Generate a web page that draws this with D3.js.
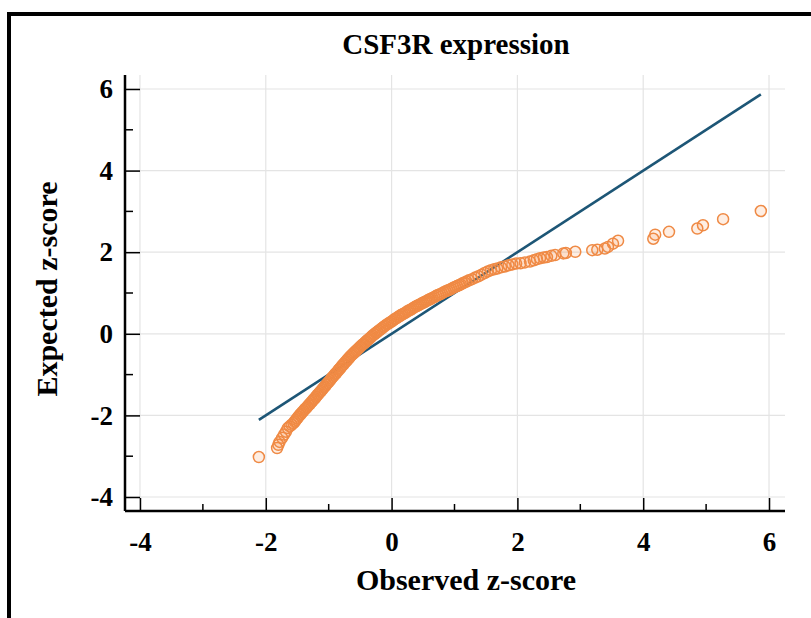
<!DOCTYPE html>
<html>
<head>
<meta charset="utf-8">
<script src="https://cdn.jsdelivr.net/npm/d3@7"></script>
<style>
	html, body { margin: 0; padding: 0; background: #fff; }
	svg { display: block; }
	text { font-family: "Liberation Serif", "Times New Roman", serif; font-weight: bold; fill: #000; }
</style>
</head>
<body>
<svg id="chart" width="811" height="618"></svg>
<script>
var title = 'CSF3R expression',
	xLabel = 'Observed z-score',
	yLabel = 'Expected z-score';

var majorTicks = [-4, -2, 0, 2, 4, 6],
	minorTicks = [-3, -1, 1, 3, 5];

// reference line y = x, from smallest to largest observed value
var refLine = [-2.11, 5.87];

// points, in rank order
var observed = [
	-2.11, -1.82, -1.80, -1.78, -1.74, -1.71, -1.68, -1.65, -1.62, -1.59,
	-1.56, -1.54, -1.52, -1.50, -1.48, -1.46, -1.44, -1.42, -1.40, -1.38, -1.36,
	-1.34, -1.32, -1.30, -1.28, -1.26, -1.24, -1.22, -1.20, -1.18, -1.16, -1.14,
	-1.12, -1.10, -1.08, -1.06, -1.04, -1.02, -1.00, -0.98, -0.96, -0.94,
	-0.92, -0.90, -0.88, -0.86, -0.84, -0.82, -0.80, -0.78, -0.76, -0.74, -0.72,
	-0.70, -0.68, -0.66, -0.64, -0.62, -0.60, -0.58, -0.56, -0.54, -0.52, -0.50,
	-0.48, -0.46, -0.44, -0.42, -0.40, -0.38, -0.36, -0.34, -0.32, -0.30,
	-0.275, -0.25, -0.225, -0.20, -0.175, -0.15, -0.125, -0.10,
	-0.075, -0.05, -0.025, 0.00, 0.025, 0.05, 0.075, 0.10, 0.125,
	0.15, 0.175, 0.20, 0.225, 0.25, 0.275, 0.30, 0.325, 0.35, 0.375, 0.40,
	0.425, 0.45, 0.475, 0.50, 0.525, 0.55, 0.575, 0.60, 0.625, 0.65,
	0.68, 0.71, 0.74, 0.77, 0.80, 0.83, 0.86, 0.89, 0.92,
	0.95, 0.98, 1.01, 1.04, 1.07, 1.10, 1.13, 1.16, 1.19,
	1.23, 1.28, 1.33, 1.38, 1.43, 1.48, 1.53, 1.58, 1.63, 1.68, 1.74, 1.80,
	1.86, 1.92, 1.98, 2.05, 2.12, 2.20, 2.26, 2.31, 2.36, 2.42, 2.47, 2.54,
	2.60, 2.73, 2.77, 2.92, 3.19, 3.27, 3.39, 3.44, 3.52, 3.60,
	4.16, 4.19, 4.41, 4.86, 4.95, 5.27, 5.87
];

var expected = [
	-3.02, -2.80, -2.72, -2.65, -2.55, -2.47, -2.40, -2.31, -2.27, -2.23,
	-2.19, -2.15, -2.11, -2.07, -2.03, -1.99, -1.96, -1.92, -1.89, -1.85, -1.82,
	-1.79, -1.75, -1.72, -1.68, -1.65, -1.61, -1.58, -1.54, -1.50, -1.47, -1.43,
	-1.40, -1.36, -1.32, -1.29, -1.25, -1.21, -1.18, -1.14, -1.10, -1.06,
	-1.03, -0.99, -0.96, -0.92, -0.88, -0.85, -0.81, -0.77, -0.74, -0.70, -0.67,
	-0.63, -0.60, -0.56, -0.53, -0.50, -0.47, -0.44, -0.41, -0.38, -0.35, -0.32,
	-0.29, -0.26, -0.24, -0.21, -0.18, -0.15, -0.13, -0.10, -0.07, -0.04,
	-0.01, 0.02, 0.05, 0.08, 0.11, 0.14, 0.17, 0.20,
	0.23, 0.25, 0.28, 0.30, 0.33, 0.36, 0.38, 0.41, 0.43,
	0.46, 0.48, 0.50, 0.52, 0.55, 0.57, 0.59, 0.61, 0.64, 0.66, 0.68,
	0.70, 0.72, 0.74, 0.76, 0.78, 0.80, 0.82, 0.84, 0.86, 0.88,
	0.90, 0.93, 0.95, 0.97, 0.99, 1.02, 1.04, 1.06, 1.08,
	1.10, 1.13, 1.15, 1.17, 1.19, 1.21, 1.24, 1.26, 1.28,
	1.31, 1.34, 1.38, 1.41, 1.45, 1.49, 1.53, 1.56, 1.58, 1.60, 1.63, 1.65,
	1.68, 1.70, 1.72, 1.73, 1.75, 1.77, 1.80, 1.83, 1.85, 1.87, 1.88, 1.91,
	1.93, 1.97, 1.98, 2.01, 2.05, 2.06, 2.09, 2.13, 2.21, 2.28,
	2.33, 2.43, 2.50, 2.58, 2.66, 2.81, 3.01
];

var svg = d3.select('#chart');

var plot = { left: 125, right: 785, top: 75, bottom: 511 };

var x = d3.scaleLinear()
	.domain([-4.238, 6.254])
	.range([plot.left, plot.right]);

var y = d3.scaleLinear()
	.domain([-4.343, 6.343])
	.range([plot.bottom, plot.top]);

var points = observed.map(function(o, i){ return { x: o, y: expected[i] }; });

// outer frame, runs off the right and bottom edges
svg.append('rect')
	.attr('x', 9)
	.attr('y', 14)
	.attr('width', 840)
	.attr('height', 640)
	.attr('fill', '#fff')
	.attr('stroke', '#000')
	.attr('stroke-width', 4);

// grid
var grid = svg.append('g').attr('class', 'grid');

grid.selectAll('line.gx')
	.data(majorTicks)
	.enter()
	.append('line')
	.attr('class', 'gx')
	.attr('x1', function(d){ return x(d); })
	.attr('x2', function(d){ return x(d); })
	.attr('y1', plot.top)
	.attr('y2', plot.bottom)
	.attr('stroke', '#e4e4e4')
	.attr('stroke-width', 1.2);

grid.selectAll('line.gy')
	.data(majorTicks)
	.enter()
	.append('line')
	.attr('class', 'gy')
	.attr('x1', plot.left)
	.attr('x2', plot.right)
	.attr('y1', function(d){ return y(d); })
	.attr('y2', function(d){ return y(d); })
	.attr('stroke', '#e4e4e4')
	.attr('stroke-width', 1.2);

// axes, ticks point inward
function plain(d){ return String(d); }

var xAxis = svg.append('g')
	.attr('transform', 'translate(0,' + plot.bottom + ')')
	.call(d3.axisBottom(x)
		.tickValues(majorTicks)
		.tickFormat(plain)
		.tickSizeInner(-13)
		.tickSizeOuter(0)
		.tickPadding(21));

var yAxis = svg.append('g')
	.attr('transform', 'translate(' + plot.left + ',0)')
	.call(d3.axisLeft(y)
		.tickValues(majorTicks)
		.tickFormat(plain)
		.tickSizeInner(-15)
		.tickSizeOuter(0)
		.tickPadding(12));

xAxis.selectAll('.tick line').attr('stroke-width', 1.5);
yAxis.selectAll('.tick line').attr('stroke-width', 1.5);

[xAxis, yAxis].forEach(function(ax){
	ax.select('.domain').attr('stroke-width', 2.5);
	ax.selectAll('.tick text')
		.attr('font-family', '"Liberation Serif", "Times New Roman", serif')
		.attr('font-weight', 'bold')
		.attr('font-size', 27)
		.attr('fill', '#000');
});

// extend the axis lines to the plot corners
xAxis.select('.domain').attr('d', 'M' + plot.left + ',0H' + plot.right);
yAxis.select('.domain').attr('d', 'M0,' + plot.top + 'V' + plot.bottom);

svg.selectAll('line.mx')
	.data(minorTicks)
	.enter()
	.append('line')
	.attr('class', 'mx')
	.attr('x1', function(d){ return x(d); })
	.attr('x2', function(d){ return x(d); })
	.attr('y1', plot.bottom)
	.attr('y2', plot.bottom - 7)
	.attr('stroke', '#000')
	.attr('stroke-width', 1.5);

svg.selectAll('line.my')
	.data(minorTicks)
	.enter()
	.append('line')
	.attr('class', 'my')
	.attr('x1', plot.left)
	.attr('x2', plot.left + 8)
	.attr('y1', function(d){ return y(d); })
	.attr('y2', function(d){ return y(d); })
	.attr('stroke', '#000')
	.attr('stroke-width', 1.5);

// reference line
svg.append('line')
	.attr('x1', x(refLine[0]))
	.attr('y1', y(refLine[0]))
	.attr('x2', x(refLine[1]))
	.attr('y2', y(refLine[1]))
	.attr('stroke', '#1d5676')
	.attr('stroke-width', 2.6);

// points
svg.append('g')
	.selectAll('circle')
	.data(points)
	.enter()
	.append('circle')
	.attr('cx', function(d){ return x(d.x); })
	.attr('cy', function(d){ return y(d.y); })
	.attr('r', 5.5)
	.attr('fill', '#f5843a')
	.attr('fill-opacity', 0.14)
	.attr('stroke', '#ef8a45')
	.attr('stroke-width', 1.5);

// labels
svg.append('text')
	.attr('x', 456)
	.attr('y', 54)
	.attr('text-anchor', 'middle')
	.attr('font-size', 29)
	.text(title);

svg.append('text')
	.attr('x', 466)
	.attr('y', 590)
	.attr('text-anchor', 'middle')
	.attr('font-size', 30)
	.text(xLabel);

svg.append('text')
	.attr('transform', 'translate(57,' + 289 + ') rotate(-90)')
	.attr('text-anchor', 'middle')
	.attr('font-size', 30)
	.text(yLabel);
</script>
</body>
</html>
